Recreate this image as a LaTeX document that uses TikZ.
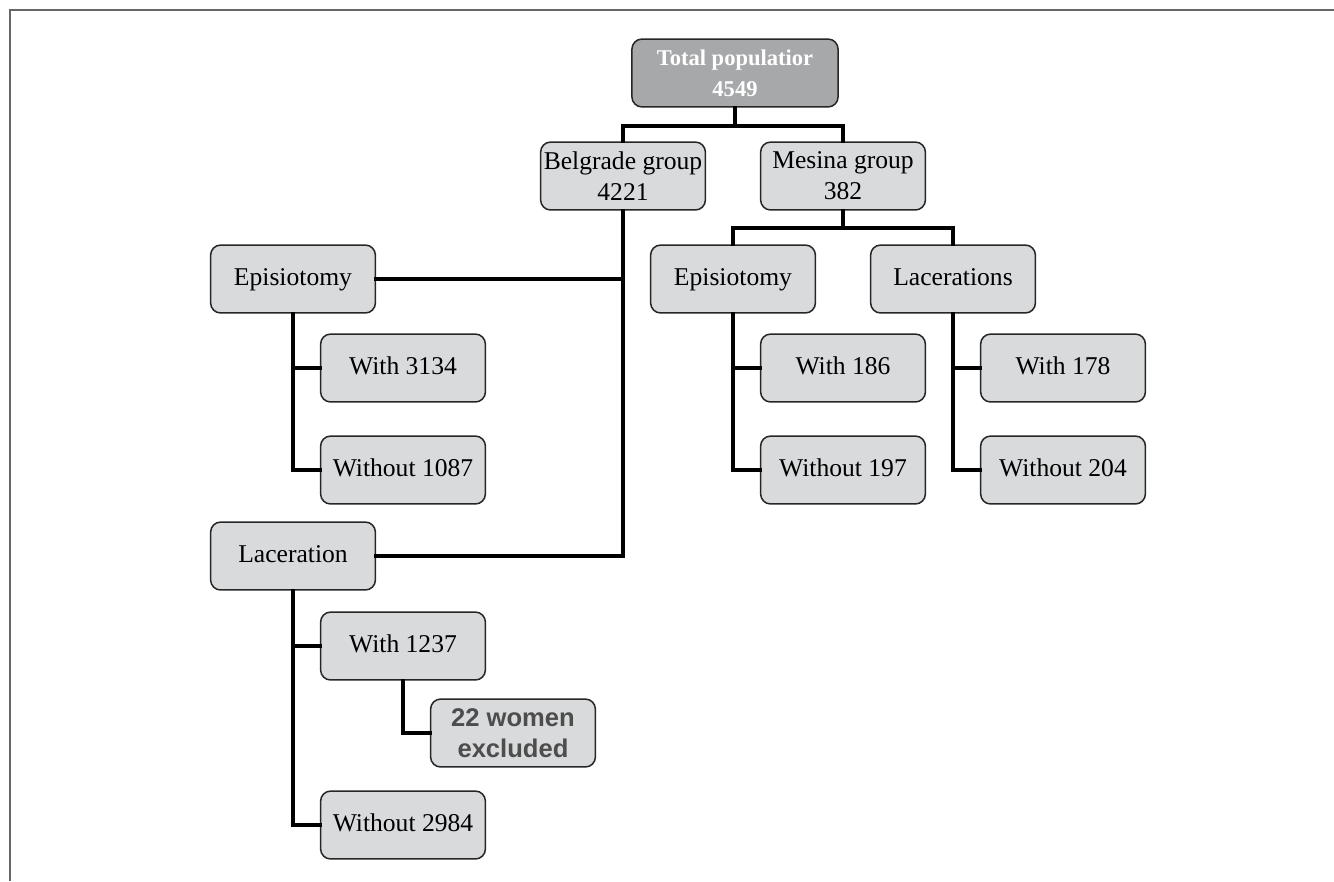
\documentclass[tikz,border=0pt]{standalone}
\usepackage{fontspec}
\setmainfont{Liberation Serif}
\newfontfamily\exfont{Liberation Sans}
\usepackage{xcolor}
\usetikzlibrary{positioning}
\definecolor{boxfill}{HTML}{D9DADC}
\definecolor{topfill}{HTML}{A7A8AA}
\definecolor{exgray}{HTML}{4D4D4D}
\tikzset{
  grp/.style={draw=black!85, line width=0.7pt, fill=boxfill, rounded corners=4.6pt,
    minimum width=2.67cm, minimum height=1.1cm, inner sep=1pt, align=center,
    font=\fontsize{11.8}{14.2}\selectfont},
  one/.style={grp, text height=8.2pt, text depth=2.6pt},
  topgrp/.style={grp, fill=topfill, text=white, minimum width=3.34cm,
    font=\fontsize{10.4}{14.2}\selectfont\bfseries},
  exgrp/.style={grp, text=exgray, font=\exfont\fontsize{11.8}{14.2}\selectfont\bfseries},
  link/.style={line width=1.85pt, line cap=rect},
  every picture/.style={line join=miter}
}

\begin{document}
\begin{tikzpicture}[x=0.0162cm, y=-0.0162cm]
  \useasboundingbox (0,0) rectangle (1334,881);
  \draw[black!60, line width=0.9pt] (1334,10) -- (10,10) -- (10,881);
  % top
  \node[topgrp] (tot) at (735,73) {Total populatior\\4549};
  \node[grp] (bel) at (623,176) {Belgrade group\\4221};
  \node[grp] (mes) at (843,176) {Mesina group\\382};
  % Belgrade side
  \node[one] (epiB) at (293,279) {Episiotomy};
  \node[one] (w3134) at (403,368) {With 3134};
  \node[one] (wo1087) at (403,470) {Without 1087};
  \node[one] (lacB) at (293,556) {Laceration};
  \node[one] (w1237) at (403,646) {With 1237};
  \node[exgrp] (excl) at (513,733) {22 women\\excluded};
  \node[one] (wo2984) at (403,825) {Without 2984};
  % Mesina side
  \node[one] (epiM) at (733,279) {Episiotomy};
  \node[one] (lacM) at (953,279) {Lacerations};
  \node[one] (w186) at (843,368) {With 186};
  \node[one] (wo197) at (843,470) {Without 197};
  \node[one] (w178) at (1063,368) {With 178};
  \node[one] (wo204) at (1063,470) {Without 204};
  % connectors
  \draw[link] (tot.south) -- ++(0,18) -| (bel.north);
  \draw[link] (tot.south) -- ++(0,18) -| (mes.north);
  \draw[link] (bel.south) |- (epiB.east);
  \draw[link] (bel.south) |- (lacB.east);
  \draw[link] (epiB.south) |- (w3134.west);
  \draw[link] (epiB.south) |- (wo1087.west);
  \draw[link] (lacB.south) |- (w1237.west);
  \draw[link] (lacB.south) |- (wo2984.west);
  \draw[link] (w1237.south) |- (excl.west);
  \draw[link] (mes.south) -- ++(0,17) -| (epiM.north);
  \draw[link] (mes.south) -- ++(0,17) -| (lacM.north);
  \draw[link] (epiM.south) |- (w186.west);
  \draw[link] (epiM.south) |- (wo197.west);
  \draw[link] (lacM.south) |- (w178.west);
  \draw[link] (lacM.south) |- (wo204.west);
\end{tikzpicture}
\end{document}
